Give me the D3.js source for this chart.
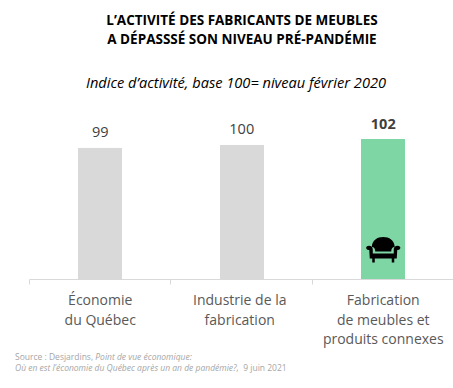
<!DOCTYPE html>
<html><head><meta charset="utf-8">
<script src="https://cdn.jsdelivr.net/npm/d3@7"></script>
<style>html,body{margin:0;padding:0;background:#fff}svg{display:block}text{font-family:"Open Sans",sans-serif}</style>
</head><body><div id="c"></div>
<script>
const categories = ["Économie du Québec","Industrie de la fabrication","Fabrication de meubles et produits connexes"];
const categoryLines = [["Économie","du Québec"],["Industrie de la","fabrication"],["Fabrication","de meubles et","produits connexes"]];
const values = [99,100,102];
const titleLines = ["L’ACTIVITÉ DES FABRICANTS DE MEUBLES","A DÉPASSSÉ SON NIVEAU PRÉ-PANDÉMIE"];
const subtitle = "Indice d’activité, base 100= niveau février 2020";
const barColors = ["#d9d9d9","#d9d9d9","#7dd6a4"];

const W=453,H=388;
const svg=d3.select("#c").append("svg").attr("width",W).attr("height",H);
const x=d3.scaleBand().domain(categories).range([29.5,454]).paddingInner(0).paddingOuter(0);
const y=d3.scaleLinear().domain([55,102]).range([279,139]);
const barW=44;
const mid=c=>x(c)+x.bandwidth()/2;

titleLines.forEach((t,i)=>svg.append("text").attr("x",242).attr("y",[25,44][i]).attr("text-anchor","middle")
  .attr("font-size",13.5).attr("font-weight",700).attr("fill","#000").text(t));
svg.append("text").attr("x",236).attr("y",88).attr("text-anchor","middle").attr("font-size",14.6).attr("font-style","italic").attr("fill","#000").text(subtitle);

svg.selectAll("rect.bar").data(values).join("rect").attr("class","bar")
  .attr("x",(d,i)=>Math.round(mid(categories[i])-barW/2))
  .attr("y",d=>y(d)).attr("width",barW).attr("height",d=>y.range()[0]-y(d))
  .attr("fill",(d,i)=>barColors[i]);

svg.selectAll("text.val").data(values).join("text").attr("class","val")
  .attr("x",(d,i)=>mid(categories[i]))
  .attr("y",(d)=>y(d)-10.5).attr("text-anchor","middle").attr("font-size",14.5)
  .attr("font-weight",(d,i)=>i===2?700:400).attr("fill","#404040").text(d=>d);

const ax=d3.axisBottom(x).tickSize(0).tickFormat("");
const g=svg.append("g").attr("transform","translate(0,279.5)").call(ax);
g.select(".domain").attr("stroke","#d9d9d9").attr("stroke-width",1).attr("d","M29.5,0H453");
categories.forEach(c=>{const tx=Math.round(x(c))-0.5;g.append("line").attr("x1",tx).attr("x2",tx).attr("y1",0).attr("y2",5).attr("stroke","#d9d9d9");});

const labelNudge=[0,-2,0];
categoryLines.forEach((ls,i)=>ls.forEach((l,j)=>svg.append("text")
  .attr("x",mid(categories[i])+labelNudge[i]).attr("y",305+j*19.5).attr("text-anchor","middle")
  .attr("font-size",14).attr("fill","#595959").text(l)));

const src=svg.append("g").attr("font-size",8.5).attr("fill","#a6a6a6");
const s1=src.append("text").attr("x",15).attr("y",360);
s1.append("tspan").text("Source : Desjardins, ");
s1.append("tspan").attr("font-style","italic").text("Point de vue économique:");
const s2=src.append("text").attr("x",15).attr("y",371);
s2.append("tspan").attr("font-style","italic").text("Où en est l’économie du Québec après un an de pandémie?,");
s2.append("tspan").text("\u00a0\u00a09 juin 2021");

// armchair icon
const cx=mid(categories[2]);
const ic=svg.append("g").attr("transform",`translate(${cx},248)`).attr("fill","#000");
ic.append("path").attr("d","M-11.5,-1 C-11,-8 -6,-11 0,-11 C6,-11 11,-8 11.5,-1 C9,-1 8,1 8,3.5 L-8,3.5 C-8,1 -9,-1 -11.5,-1 Z");
ic.append("path").attr("d","M-17,-1 C-15,-3 -11,-2.5 -10.5,1 L-10.5,5.5 L10.5,5.5 L10.5,1 C11,-2.5 15,-3 17,-1 C17.5,1 15.5,2.5 14,2 L13.5,10.5 L11,10.5 L11,14.5 L8.5,14.5 L8.5,10.5 L-8.5,10.5 L-8.5,14.5 L-11,14.5 L-11,10.5 L-13.5,10.5 L-14,2 C-15.5,2.5 -17.5,1 -17,-1 Z");
</script></body></html>
